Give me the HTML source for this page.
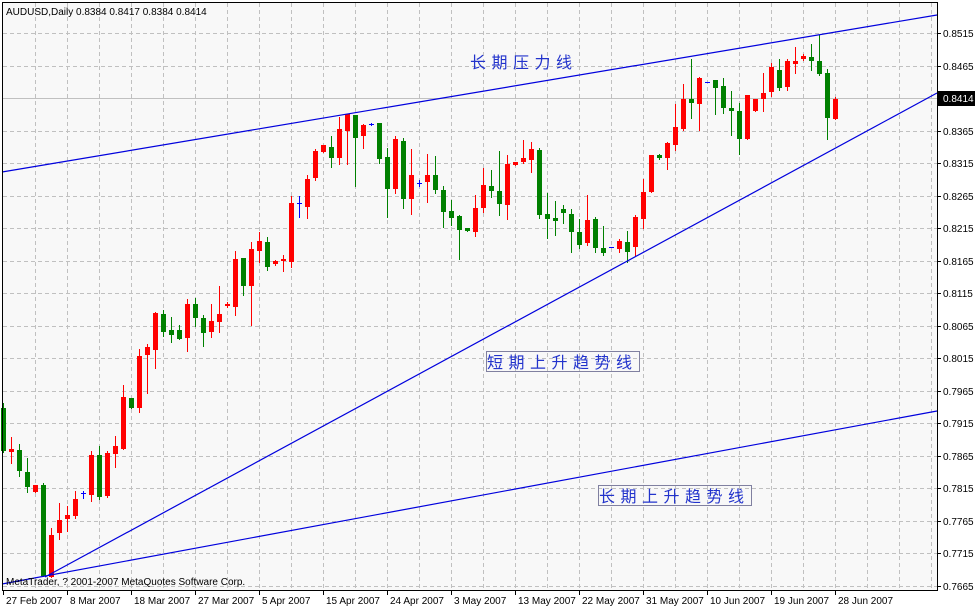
<!DOCTYPE html>
<html><head><meta charset="utf-8"><style>
html,body{margin:0;padding:0;background:#fff;width:975px;height:607px;overflow:hidden}
svg{display:block}
text{font-family:"Liberation Sans",sans-serif;font-size:10px}
.cn{font-family:"Liberation Sans","Noto Sans CJK SC",sans-serif;font-size:16px;fill:#2233cc;letter-spacing:5.5px}
</style></head><body>
<svg id="s" width="975" height="607" xmlns="http://www.w3.org/2000/svg" shape-rendering="crispEdges">
<rect x="0" y="0" width="975" height="607" fill="#fff"/>
<rect x="2" y="2" width="935" height="588" fill="#f8f8f8"/>
<g id="grid" stroke="#c0c0c0" stroke-dasharray="4,3" stroke-width="1"></g>
<line x1="2" y1="98.5" x2="937" y2="98.5" stroke="#c0c0c0"/>
<g id="candles"></g>
<g stroke="#0000dd" stroke-width="1.2" shape-rendering="auto">
<line x1="2" y1="172" x2="937" y2="15"/>
<line x1="45" y1="577" x2="937" y2="93"/>
<line x1="2" y1="584" x2="937" y2="411"/>
</g>
<line x1="2.5" y1="2" x2="2.5" y2="590" stroke="#000"/>
<line x1="2" y1="2.5" x2="937" y2="2.5" stroke="#000"/>
<line x1="937.5" y1="2" x2="937.5" y2="591" stroke="#000"/>
<line x1="2" y1="590.5" x2="938" y2="590.5" stroke="#000"/>
<g id="axis"></g>
<rect x="938" y="91" width="37" height="15" fill="#000"/>
<text x="943" y="102" fill="#fff">0.8414</text>
<text x="6" y="15" fill="#000">AUDUSD,Daily  0.8384 0.8417 0.8384 0.8414</text>
<text x="6" y="585" fill="#000">MetaTrader, ? 2001-2007 MetaQuotes Software Corp.</text>
<text class="cn" x="470" y="68">长期压力线</text>
<rect x="486.5" y="351.5" width="153" height="20" fill="none" stroke="#8080a0"/>
<text class="cn" x="487" y="368">短期上升趋势线</text>
<rect x="598.5" y="485.5" width="153" height="20" fill="none" stroke="#8080a0"/>
<text class="cn" x="599" y="502">长期上升趋势线</text>
</svg>
<script>
var NS="http://www.w3.org/2000/svg";
function el(p,t,a,txt){var e=document.createElementNS(NS,t);for(var k in a)e.setAttribute(k,a[k]);if(txt)e.textContent=txt;p.appendChild(e);return e;}
var g=document.getElementById('grid');
for(var x=35;x<937;x+=32)el(g,'line',{x1:x+.5,y1:3,x2:x+.5,y2:590});
var labs=["0.8515","0.8465","0.8415","0.8365","0.8315","0.8265","0.8215","0.8165","0.8115","0.8065","0.8015","0.7965","0.7915","0.7865","0.7815","0.7765","0.7715","0.7665"];
var ax=document.getElementById('axis');
for(var i=0;i<labs.length;i++){var y=Math.round(33+32.5*i);
 if(i!=2){el(g,'line',{x1:3,y1:y+.5,x2:937,y2:y+.5});}
 el(ax,'line',{x1:937,y1:y+.5,x2:941,y2:y+.5,stroke:'#000'});
 if(i!=2)el(ax,'text',{x:943,y:y+4,fill:'#000'},labs[i]);}
var dates=["27 Feb 2007","8 Mar 2007","18 Mar 2007","27 Mar 2007","5 Apr 2007","15 Apr 2007","24 Apr 2007","3 May 2007","13 May 2007","22 May 2007","31 May 2007","10 Jun 2007","19 Jun 2007","28 Jun 2007"];
for(var i=0;i<dates.length;i++){var x=3+64*i;
 el(ax,'line',{x1:x+.5,y1:590,x2:x+.5,y2:595,stroke:'#000'});
 el(ax,'text',{x:x+3,y:604,fill:'#000'},dates[i]);}
var d=[[3,408,451,403,452,'g'],[11,449,452,437,463,'r'],[19,450,471,444,476,'g'],[27,472,487,458,492,'g'],[35,485,492,485,492,'r'],[43,485,576,483,576,'g'],[51,535,577,528,577,'r'],[59,520,533,503,539,'r'],[67,515,519,506,531,'r'],[75,499,516,491,518,'r'],[83,493,493,491,498,'b'],[91,455,495,451,501,'r'],[99,455,497,446,499,'g'],[107,453,496,451,497,'r'],[115,446,454,436,467,'r'],[123,397,449,385,449,'r'],[131,398,408,398,408,'g'],[139,356,408,349,412,'r'],[147,347,355,344,393,'r'],[155,313,350,312,368,'r'],[163,314,332,310,336,'g'],[171,330,335,317,342,'g'],[179,330,339,325,339,'g'],[187,304,338,299,351,'r'],[195,304,318,298,326,'g'],[203,318,333,315,346,'g'],[211,321,332,304,337,'r'],[219,314,322,286,332,'r'],[227,304,306,302,307,'r'],[235,259,307,251,315,'r'],[243,258,286,258,295,'g'],[251,249,286,242,325,'r'],[259,241,251,232,262,'r'],[267,242,267,237,270,'g'],[275,261,264,260,265,'r'],[283,259,261,255,271,'r'],[291,203,262,196,267,'r'],[299,203,203,196,217,'b'],[307,179,207,175,218,'r'],[315,151,178,149,180,'r'],[323,145,152,145,152,'r'],[331,147,158,136,167,'g'],[339,129,158,117,164,'r'],[347,114,131,114,164,'r'],[355,115,138,115,186,'g'],[363,125,136,124,148,'r'],[371,124,124,123,125,'b'],[379,123,159,123,163,'g'],[387,157,189,148,217,'g'],[395,139,189,136,193,'r'],[403,141,199,138,208,'g'],[411,175,199,149,214,'r'],[419,183,183,180,186,'b'],[427,175,182,154,202,'r'],[435,175,190,156,193,'g'],[443,190,212,186,227,'g'],[451,211,218,200,225,'g'],[459,216,230,215,259,'g'],[467,228,231,228,231,'g'],[475,208,232,195,236,'r'],[483,185,208,168,212,'r'],[491,186,191,170,197,'g'],[499,191,204,151,215,'g'],[507,164,205,155,219,'r'],[515,162,165,162,165,'r'],[523,158,162,140,163,'r'],[531,149,160,142,172,'r'],[539,150,215,148,218,'g'],[547,214,219,193,238,'g'],[555,218,221,201,235,'g'],[563,209,213,205,223,'g'],[571,214,232,209,252,'g'],[579,232,245,219,248,'g'],[587,220,243,195,245,'r'],[595,219,248,217,252,'g'],[603,248,253,226,255,'g'],[611,247,247,247,247,'b'],[619,241,249,239,252,'r'],[627,242,252,231,262,'g'],[635,217,247,215,255,'r'],[643,192,219,179,228,'r'],[651,155,192,155,192,'r'],[659,155,158,154,159,'g'],[667,143,158,142,169,'r'],[675,127,145,104,150,'r'],[683,99,129,84,130,'r'],[691,99,103,59,118,'g'],[699,78,104,77,130,'r'],[707,82,82,82,82,'b'],[715,80,88,80,114,'g'],[723,86,108,78,113,'g'],[731,108,111,91,135,'g'],[739,111,139,103,154,'g'],[747,95,139,95,139,'r'],[755,99,111,99,111,'r'],[763,93,99,73,111,'r'],[771,67,92,63,96,'r'],[779,70,88,59,90,'g'],[787,61,87,59,90,'r'],[795,61,64,47,73,'r'],[803,56,59,54,60,'r'],[811,57,61,44,70,'g'],[819,61,74,35,75,'g'],[827,73,118,69,139,'g'],[835,99,119,97,119,'r']];
var cg=document.getElementById('candles');
var col={r:'#ff0000',g:'#008000',b:'#0000ff'};
d.forEach(function(c){var x=c[0],f=col[c[5]];
 if(c[4]>c[3])el(cg,'rect',{x:x,y:c[3],width:1,height:c[4]-c[3]+1,fill:f});
 if(c[5]=='b')el(cg,'rect',{x:x-2,y:c[1],width:5,height:1,fill:f});
 else el(cg,'rect',{x:x-2,y:c[1],width:5,height:Math.max(1,c[2]-c[1]),fill:f});
});
</script>
</body></html>
